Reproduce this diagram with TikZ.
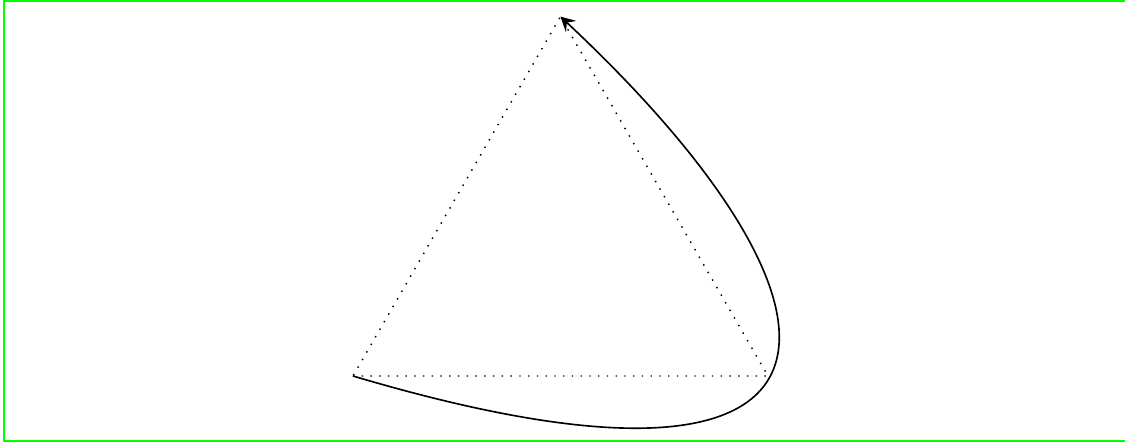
\documentclass[tikz,border=0pt]{standalone}
\usetikzlibrary{arrows.meta}
\begin{document}
\begin{tikzpicture}[
  frame/.style={draw={rgb,255:red,0;green,255;blue,0}, line width=0.55pt},
  tri/.style={dotted},
  path/.style={-{Stealth[length=4pt,width=4.2pt,inset=1.6pt]}, line width=0.45pt}
]
\useasboundingbox (-3.402,-0.646) rectangle (7.441,3.624);
\draw[frame] (-3.368,-0.631) rectangle (7.6,3.614);
\coordinate (A) at (0,0);
\coordinate (B) at (4,0);
\coordinate (C) at (2,3.464);
\draw[tri] (A) -- (B) -- (C) -- cycle;
\draw[path] (A) .. controls (5.12,-1.52) and (5.03,0.63) .. (C);
\end{tikzpicture}
\end{document}
